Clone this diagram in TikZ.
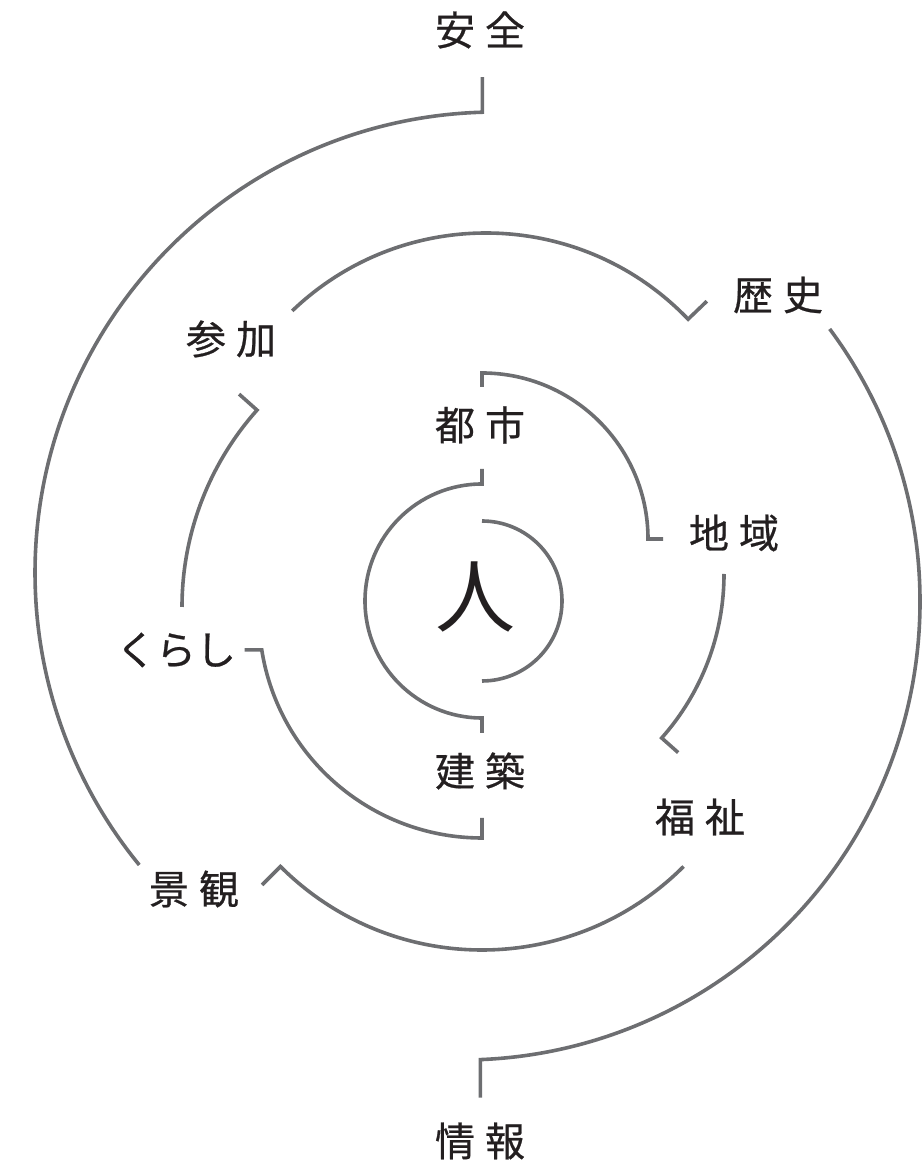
\documentclass[tikz,border=0pt]{standalone}
\usepackage{fontspec}
\newfontfamily\jpfont{Noto Sans CJK JP}
\newfontfamily\jpmed[FakeBold=0.6]{Noto Sans CJK JP}
\definecolor{ringgray}{RGB}{109,110,113}
\definecolor{ink}{RGB}{35,31,32}
\newcommand{\kgap}{\hspace{10pt}}

\begin{document}
\begin{tikzpicture}[x=1pt,y=1pt,
  ring/.style={draw=ringgray,line width=3.6pt},
  word/.style={text=ink,inner sep=0pt,font=\jpmed\fontsize{40}{40}\selectfont}]
\useasboundingbox (0,0) rectangle (922,1164);

\draw[ring] (482,563) ++(90:80) arc (90:-90:80);
\draw[ring] (482,563) ++(90:132) -- ++(0,-15) arc (90:270:117) -- ++(0,-15);
\draw[ring] (482,625) ++(90:152) -- ++(0,14) arc (90:0:166) -- ++(15,0);
\draw[ring] (477,590) ++(0:247) arc (0:-41.6:247) -- ++(-41.6:22);
\draw[ring] (482,549) ++(189:223) ++(-17,0) -- ++(17,0) arc (189:270:223) -- ++(0,20);
\draw[ring] (478,557) ++(138.3:320) -- ++(318.3:24) arc (138.3:180:296);
\draw[ring] (486,651) ++(133.8:280) arc (133.8:43.8:280) -- ++(43.8:26);
\draw[ring] (482,499) ++(225:311) -- ++(45:26) arc (225:315:285);
\draw[ring] (496,591) ++(91.7:461) ++(0,35) -- ++(0,-35) arc (91.7:219.3:461);
\draw[ring] (462,562) ++(36.6:458) arc (36.6:-87.7:458) -- ++(0,-38);

\node[word,font=\jpfont\fontsize{80}{80}\selectfont] (hito) at (475,567) {人};
\node[word] (toshi) at (480,739) {都\kgap 市};
\node[word] (kenchiku) at (480,393) {建\kgap 築};
\node[word] (chiiki) at (734,631) {地\kgap 域};
\node[word] (kurashi) at (176,514) {くらし};
\node[word] (fukushi) at (700,347) {福\kgap 祉};
\node[word] (sanka) at (231,825) {参\kgap 加};
\node[word] (rekishi) at (778,869) {歴\kgap 史};
\node[word] (keikan) at (194,275) {景\kgap 観};
\node[word] (anzen) at (480,1134) {安\kgap 全};
\node[word] (joho) at (480,23) {情\kgap 報};
\end{tikzpicture}
\end{document}
